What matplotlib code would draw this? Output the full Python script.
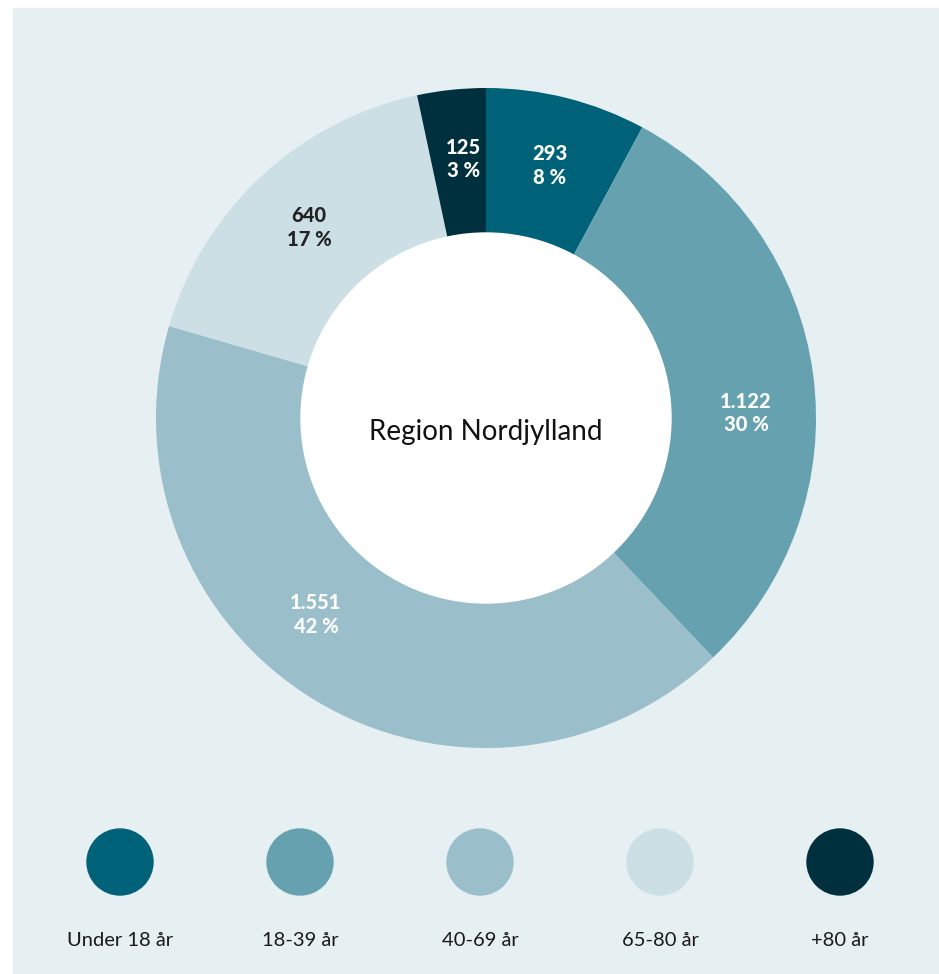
import numpy as np
import matplotlib.pyplot as plt
from matplotlib.patches import Circle, Rectangle

# data
groups = ['Under 18 år', '18-39 år', '40-69 år', '65-80 år', '+80 år']
counts = [293, 1122, 1551, 640, 125]
count_labels = ['293', '1.122', '1.551', '640', '125']
pct_labels = ['8 %', '30 %', '42 %', '17 %', '3 %']
colors = ['#006278', '#66a1b0', '#9bbfca', '#ccdfe5', '#002f3d']
label_colors = ['white', 'white', 'white', '#222222', 'white']
angle_shift = [0, -6.5, -9.5, 0, -1]  # small nudges to label positions
title = 'Region Nordjylland'

plt.rcParams['font.family'] = ['Lato', 'DejaVu Sans']

W, H = 939, 974
fig = plt.figure(figsize=(W / 100, H / 100), dpi=100)
ax = fig.add_axes([0, 0, 1, 1])

# light panel behind everything
ax.add_patch(Rectangle((13, 1), W - 13, H - 9, color='#e6eff2', zorder=0))

cx, cy = 486, 556
r_out, r_in = 330, 185

wedges, _ = ax.pie(counts, colors=colors, startangle=90, counterclock=False,
                   radius=r_out, center=(cx, cy),
                   wedgeprops=dict(linewidth=0), frame=True)
ax.add_patch(Circle((cx, cy), r_in, color='white', zorder=3))

# segment labels
total = sum(counts)
start = 90
for i, c in enumerate(counts):
    span = c / total * 360
    mid = np.deg2rad(start - span / 2 + angle_shift[i])
    start -= span
    r = 260
    ax.text(cx + r * np.cos(mid), cy + r * np.sin(mid),
            count_labels[i] + '\n' + pct_labels[i],
            ha='center', va='center', fontsize=14.5, fontweight='black',
            color=label_colors[i], linespacing=1.3, zorder=4)

ax.text(cx, cy - 14, title, ha='center', va='center', fontsize=20,
        color='#111111', zorder=4)

# legend
xs = [120, 300, 480, 660, 840]
for i, g in enumerate(groups):
    ax.add_patch(Circle((xs[i], 112), 33, color=colors[i], zorder=2))
    ax.text(xs[i], 33, g, ha='center', va='center', fontsize=14.5,
            color='#1a1a1a')

ax.set_xlim(0, W)
ax.set_ylim(0, H)
ax.set_aspect('equal')
ax.axis('off')

plt.savefig('out.png', dpi=100)
